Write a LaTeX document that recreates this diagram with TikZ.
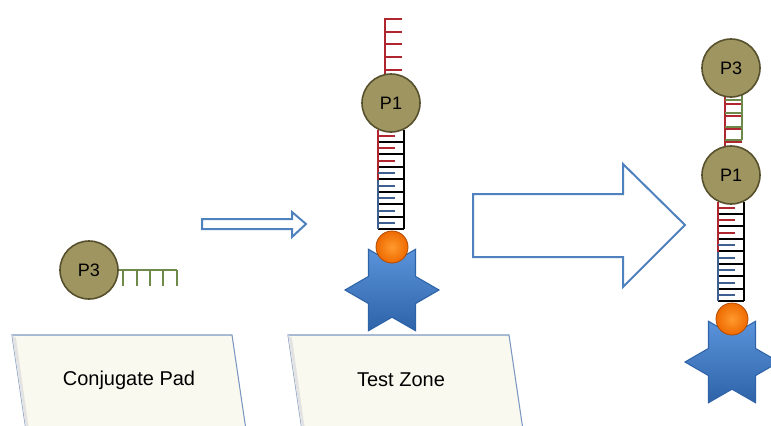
\documentclass[tikz,border=0pt]{standalone}
\usepackage{fontspec}
\setmainfont{Liberation Sans}
\usetikzlibrary{shapes.geometric,shadings}
\definecolor{protfill}{HTML}{9E9561}
\definecolor{protedge}{HTML}{57502C}
\definecolor{beadorange}{HTML}{EE6A00}
\definecolor{beadlight}{HTML}{FF9A2E}
\definecolor{beadedge}{HTML}{B34A00}
\definecolor{starlight}{HTML}{5A93DA}
\definecolor{stardark}{HTML}{2E63A8}
\definecolor{strandred}{HTML}{B0262E}
\definecolor{strandblue}{HTML}{3E5F8F}
\definecolor{strandgreen}{HTML}{6E8A4A}
\definecolor{arrowblue}{HTML}{4F81BD}
\definecolor{padfill}{HTML}{FAF9EF}
\definecolor{padedge}{HTML}{7C98C2}

\begin{document}
\begin{tikzpicture}[x=0.75pt,y=-0.75pt]
        %
        % `protein' is used for the P1/P3 particles.
        % `bead' and `antibody' sit at the foot of each capture strand.
        % `pad' is used for the two strip zones.
        \tikzstyle{protein} = [circle,draw=protedge,line width=1.2pt,fill=protfill,minimum size=43.5pt,inner sep=0pt,font=\fontsize{13.5}{16}\selectfont]
        \tikzstyle{bead} = [circle,draw=beadedge,line width=0.6pt,inner color=beadlight,outer color=beadorange,minimum size=24pt,inner sep=0pt]
        \tikzstyle{antibody} = [star,star points=6,star point ratio=1.73,shape border rotate=90,minimum size=70.5pt,inner sep=0pt,draw=stardark,line width=0.8pt,top color=starlight,bottom color=stardark]
        \tikzstyle{redstrand} = [draw=strandred,line width=1.1pt]
        \tikzstyle{bluestrand} = [draw=strandblue,line width=1.1pt]
        \tikzstyle{greenstrand} = [draw=strandgreen,line width=1.1pt]
        \tikzstyle{rung} = [draw=black,line width=1pt]
        \tikzstyle{blockarrow} = [draw=arrowblue,line width=1.5pt,fill=white,line join=miter]
        \tikzstyle{pad} = [draw=padedge,line width=0.8pt,fill=padfill]
        \tikzstyle{padlabel} = [font=\fontsize{15}{18}\selectfont]
        %
        \useasboundingbox (0,0) rectangle (771,425);
        \clip (0,0) rectangle (771,425);
        %
        % Pads
        \filldraw[pad] (12,335) -- (232,335) -- (246,430) -- (26,430) -- cycle;
        \fill[gray!22] (12,335) -- (16,338) -- (29,430) -- (26,430) -- cycle;
        \node[padlabel] (conjlbl) at (129,380) {Conjugate Pad};
        \filldraw[pad] (288,335) -- (509,335) -- (523,430) -- (302,430) -- cycle;
        \fill[gray!22] (288,335) -- (292,338) -- (305,430) -- (302,430) -- cycle;
        \node[padlabel] (testlbl) at (401,380) {Test Zone};
        %
        % Conjugate: P3 with its probe strand
        \draw[greenstrand] (118,270) -- (177,270);
        \foreach \x in {123,137,150,163,177} \draw[greenstrand] (\x,270) -- (\x,286);
        \node[protein] (p3a) at (89,270) {P3};
        %
        % Arrows
        \draw[blockarrow] (202,219) -- (292,219) -- (292,212) -- (306,224) -- (292,237) -- (292,229) -- (202,229) -- cycle;
        \draw[blockarrow] (473,194) -- (623,194) -- (623,164) -- (685,225) -- (623,287) -- (623,257) -- (473,257) -- cycle;
        %
        % Test zone: free strand above P1
        \draw[redstrand] (385,18) -- (385,76);
        \foreach \y in {19,32,44,57,70} \draw[redstrand] (385,\y) -- (402,\y);
        %
        % Test zone: duplex below P1
        \draw[rung] (404,130) -- (404,229);
        \foreach \y in {142,154,167,179,192,204,217,229} \draw[rung] (378,\y) -- (404,\y);
        \draw[redstrand] (378,130) -- (378,180);
        \draw[bluestrand] (378,180) -- (378,229);
        \foreach \y in {136,148,161} \draw[redstrand] (378,\y) -- (395,\y);
        \foreach \y in {173,186,198,211,223} \draw[bluestrand] (378,\y) -- (395,\y);
        \node[protein] (p1a) at (391,103) {P1};
        \node[antibody] (star1) at (392,290) {};
        \node[bead] (bead1) at (392,247) {};
        %
        % Result: P3 hybridised onto the P1 strand
        \draw[redstrand] (725,88) -- (725,148);
        \foreach \y in {91,104,116,129,142} \draw[redstrand] (725,\y) -- (742,\y);
        \draw[greenstrand] (742,94) -- (742,140);
        \foreach \y in {100,113,127,140} \draw[greenstrand] (742,\y) -- (725,\y);
        \node[protein] (p3b) at (731,68) {P3};
        %
        % Result: duplex below P1
        \draw[rung] (744,202) -- (744,301);
        \foreach \y in {214,226,239,251,264,276,289,301} \draw[rung] (718,\y) -- (744,\y);
        \draw[redstrand] (718,202) -- (718,252);
        \draw[bluestrand] (718,252) -- (718,301);
        \foreach \y in {208,220,233} \draw[redstrand] (718,\y) -- (735,\y);
        \foreach \y in {245,258,270,283,295} \draw[bluestrand] (718,\y) -- (735,\y);
        \node[protein] (p1b) at (731,175) {P1};
        \node[antibody] (star2) at (732,362) {};
        \node[bead] (bead2) at (732,319) {};
        %
\end{tikzpicture}
\end{document}
